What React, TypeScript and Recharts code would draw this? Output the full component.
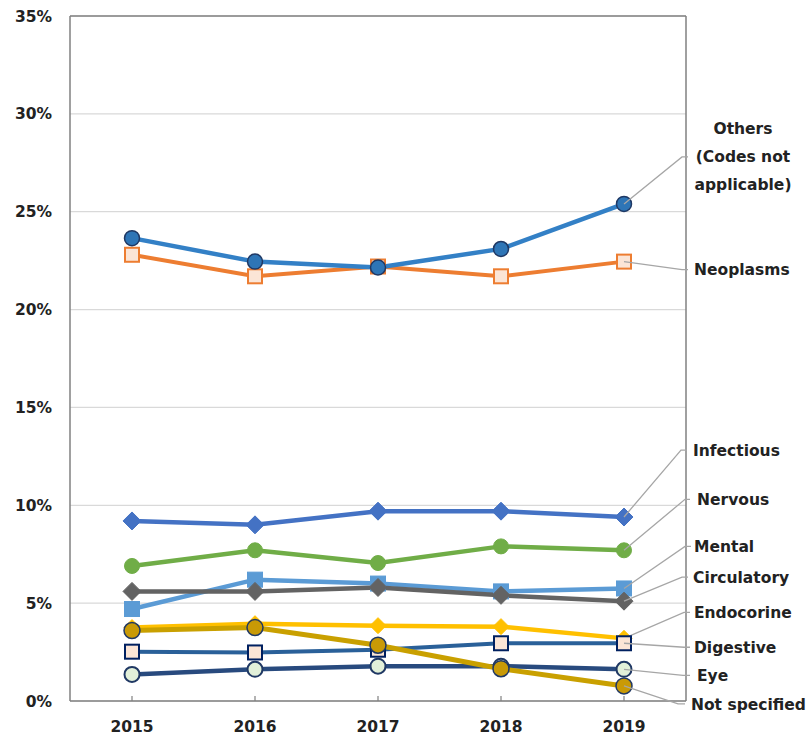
import React from 'react';
import { LineChart, Line, XAxis, YAxis, CartesianGrid } from 'recharts';

// Share of claims by disease group, 2015–2019 (percent)
const years = ['2015', '2016', '2017', '2018', '2019'];
const others = [23.65, 22.45, 22.15, 23.1, 25.4];
const neoplasms = [22.8, 21.7, 22.2, 21.7, 22.45];
const infectious = [9.2, 9.0, 9.7, 9.7, 9.4];
const nervous = [6.9, 7.7, 7.05, 7.9, 7.7];
const mental = [4.7, 6.2, 6.0, 5.6, 5.75];
const circulatory = [5.6, 5.6, 5.8, 5.4, 5.1];
const endocrine = [3.75, 3.95, 3.85, 3.8, 3.2];
const digestive = [2.52, 2.48, 2.62, 2.95, 2.95];
const eye = [1.36, 1.62, 1.78, 1.78, 1.62];
const notSpecified = [3.6, 3.75, 2.85, 1.65, 0.77];
const yTicks = [0, 5, 10, 15, 20, 25, 30, 35];

const rows = years.map((year, i) => ({
  year,
  others: others[i],
  neoplasms: neoplasms[i],
  infectious: infectious[i],
  nervous: nervous[i],
  mental: mental[i],
  circulatory: circulatory[i],
  endocrine: endocrine[i],
  digestive: digestive[i],
  eye: eye[i],
  notSpecified: notSpecified[i],
}));

const FONT = 'DejaVu Sans, Verdana, sans-serif';
const TEXT = '#222222';
const LEADER = '#a6a6a6';
const FRAME = '#808080';

type Shape = 'circle' | 'square' | 'diamond';

interface SeriesStyle {
  key: string;
  label: string[];
  line: string;
  width: number;
  shape: Shape;
  size: number;
  fill: string;
  stroke: string;
  strokeWidth: number;
  // leader line / end label placement relative to the last point
  elbowDx: number;
  elbowDy: number;
  endDx: number;
  textDx: number;
  centered?: boolean;
}

// Drawing order: later series sit on top
const series: SeriesStyle[] = [
  { key: 'neoplasms', label: ['Neoplasms'], line: '#ED7D31', width: 4, shape: 'square', size: 14, fill: '#FBE5D6', stroke: '#ED7D31', strokeWidth: 2, elbowDx: 58, elbowDy: 8, endDx: 64, textDx: 70 },
  { key: 'others', label: ['Others', '(Codes not', 'applicable)'], line: '#3380C6', width: 4.5, shape: 'circle', size: 15, fill: '#2E75B6', stroke: '#1F3864', strokeWidth: 1.5, elbowDx: 58, elbowDy: -47, endDx: 64, textDx: 119, centered: true },
  { key: 'infectious', label: ['Infectious'], line: '#4472C4', width: 4.5, shape: 'diamond', size: 18, fill: '#4472C4', stroke: '#4472C4', strokeWidth: 1, elbowDx: 57, elbowDy: -67, endDx: 63, textDx: 69 },
  { key: 'nervous', label: ['Nervous'], line: '#70AD47', width: 4.5, shape: 'circle', size: 15, fill: '#70AD47', stroke: '#70AD47', strokeWidth: 1, elbowDx: 61, elbowDy: -51, endDx: 66, textDx: 73 },
  { key: 'mental', label: ['Mental'], line: '#5B9BD5', width: 4.5, shape: 'square', size: 15, fill: '#5B9BD5', stroke: '#5B9BD5', strokeWidth: 1, elbowDx: 61, elbowDy: -42, endDx: 67, textDx: 70 },
  { key: 'circulatory', label: ['Circulatory'], line: '#636363', width: 4.5, shape: 'diamond', size: 18, fill: '#636363', stroke: '#636363', strokeWidth: 1, elbowDx: 58, elbowDy: -24, endDx: 64, textDx: 69 },
  { key: 'endocrine', label: ['Endocorine'], line: '#FFC000', width: 4.5, shape: 'diamond', size: 16, fill: '#FFC000', stroke: '#FFC000', strokeWidth: 1, elbowDx: 60, elbowDy: -26, endDx: 66, textDx: 70 },
  { key: 'digestive', label: ['Digestive'], line: '#2A6099', width: 4, shape: 'square', size: 14, fill: '#FBE5D6', stroke: '#002060', strokeWidth: 2, elbowDx: 60, elbowDy: 4, endDx: 66, textDx: 70 },
  { key: 'eye', label: ['Eye'], line: '#284A7E', width: 4.5, shape: 'circle', size: 15, fill: '#E2F0D9', stroke: '#203864', strokeWidth: 2, elbowDx: 59, elbowDy: 6, endDx: 66, textDx: 73 },
  { key: 'notSpecified', label: ['Not specified'], line: '#C9A000', width: 5, shape: 'circle', size: 16, fill: '#C99A06', stroke: '#203864', strokeWidth: 1.5, elbowDx: 54, elbowDy: 18, endDx: 61, textDx: 67 },
];

function marker(s: SeriesStyle, cx: number, cy: number) {
  const h = s.size / 2;
  if (s.shape === 'circle') {
    return <circle cx={cx} cy={cy} r={h} fill={s.fill} stroke={s.stroke} strokeWidth={s.strokeWidth} />;
  }
  if (s.shape === 'square') {
    return <rect x={cx - h} y={cy - h} width={s.size} height={s.size} fill={s.fill} stroke={s.stroke} strokeWidth={s.strokeWidth} />;
  }
  return (
    <polygon
      points={`${cx},${cy - h} ${cx + h},${cy} ${cx},${cy + h} ${cx - h},${cy}`}
      fill={s.fill}
      stroke={s.stroke}
      strokeWidth={s.strokeWidth}
    />
  );
}

function makeDot(s: SeriesStyle) {
  return (props: any) => {
    const { cx, cy, index } = props;
    if (cx == null || cy == null) return <g key={`${s.key}-${index}`} />;
    const isLast = index === years.length - 1;
    let endLabel = null;
    if (isLast) {
      const ex = cx + s.elbowDx;
      const ey = cy + s.elbowDy;
      const lineGap = 28;
      const top = ey - ((s.label.length - 1) * lineGap) / 2;
      endLabel = (
        <g>
          <polyline points={`${cx},${cy} ${ex},${ey} ${cx + s.endDx},${ey}`} fill="none" stroke={LEADER} strokeWidth={1.3} />
          {s.label.map((t, i) => (
            <text
              key={t}
              x={cx + s.textDx}
              y={top + i * lineGap}
              dy="0.36em"
              textAnchor={s.centered ? 'middle' : 'start'}
              fontFamily={FONT}
              fontWeight={700}
              fontSize={15.5}
              fill={TEXT}
            >
              {t}
            </text>
          ))}
        </g>
      );
    }
    return (
      <g key={`${s.key}-${index}`}>
        {marker(s, cx, cy)}
        {endLabel}
      </g>
    );
  };
}

function XTick(props: any) {
  const { x, y, payload } = props;
  const axisY = y - 20;
  return (
    <g>
      <line x1={x} y1={axisY} x2={x} y2={axisY - 5} stroke={FRAME} strokeWidth={1.2} />
      <text x={x} y={y} dy="0.71em" textAnchor="middle" fontFamily={FONT} fontWeight={700} fontSize={15.5} fill={TEXT}>
        {payload.value}
      </text>
    </g>
  );
}

const frameLine = { stroke: FRAME, strokeWidth: 1.5 };
const xPadding = { left: 62, right: 62 };

export default function App() {
  return (
    <div style={{ position: 'absolute', left: 0, top: 0 }}>
      <LineChart width={811} height={736} data={rows} margin={{ top: 15, right: 124, bottom: 0, left: 0 }}>
        <CartesianGrid vertical={false} stroke="#d9d9d9" strokeWidth={1.2} />
        <XAxis
          dataKey="year"
          padding={xPadding}
          height={35}
          tickSize={0}
          tickMargin={20}
          tickLine={false}
          interval={0}
          tick={<XTick />}
          axisLine={frameLine}
        />
        <XAxis
          xAxisId="top"
          orientation="top"
          dataKey="year"
          padding={xPadding}
          height={1}
          tick={false}
          tickLine={false}
          axisLine={frameLine}
        />
        <YAxis
          domain={[0, 35]}
          ticks={yTicks}
          width={70}
          tickSize={0}
          tickMargin={18}
          tickLine={false}
          interval={0}
          tickFormatter={(v: number) => `${v}%`}
          tick={{ fill: TEXT, fontSize: 15.5, fontWeight: 700, fontFamily: FONT }}
          axisLine={frameLine}
        />
        <YAxis
          yAxisId="right"
          orientation="right"
          domain={[0, 35]}
          width={1}
          tick={false}
          tickLine={false}
          axisLine={frameLine}
        />
        {series.map((s) => (
          <Line
            key={s.key}
            dataKey={s.key}
            stroke={s.line}
            strokeWidth={s.width}
            dot={makeDot(s)}
            activeDot={false}
            isAnimationActive={false}
          />
        ))}
      </LineChart>
    </div>
  );
}
